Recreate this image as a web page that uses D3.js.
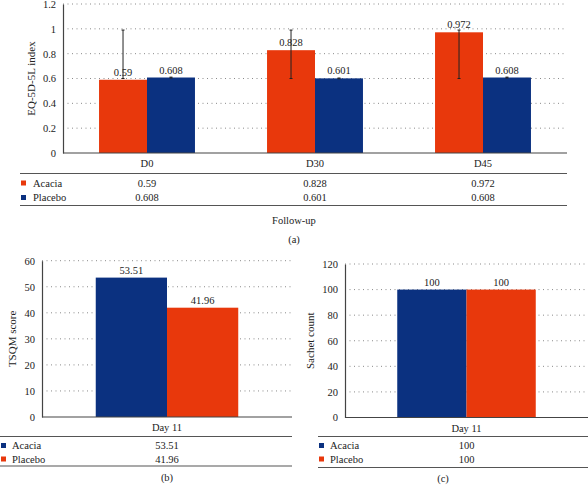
<!DOCTYPE html>
<html><head><meta charset="utf-8">
<script src="https://cdn.jsdelivr.net/npm/d3@7"></script>
<style>body{margin:0;background:#fff}svg{display:block}text{font-family:"Liberation Serif","DejaVu Serif",serif;fill:#222}</style>
</head><body>
<svg id="c" width="588" height="486"></svg>
<script>
// ---- data ----
const seriesNames = ["Acacia", "Placebo"];
const catsA = ["D0", "D30", "D45"];
const acaciaA = [0.59, 0.828, 0.972];
const placeboA = [0.608, 0.601, 0.608];
const acaciaErrLoA = [0.6, 0.6, 0.6];
const acaciaErrHiA = [0.99, 0.99, 0.99];
const placeboErrLoA = [0.604, 0.598, 0.604];
const placeboErrHiA = [0.611, 0.604, 0.611];
const ticksA = [0, 0.2, 0.4, 0.6, 0.8, 1, 1.2];
const catsB = ["Day 11"];
const acaciaB = [53.51];
const placeboB = [41.96];
const ticksB = [0, 10, 20, 30, 40, 50, 60];
const catsC = ["Day 11"];
const acaciaC = [100];
const placeboC = [100];
const ticksC = [0, 20, 40, 60, 80, 100, 120];

const ORANGE = "#e8380c", BLUE = "#0b3180";
const FS = "10.5px";
const svg = d3.select("#c");

function panel(o) {
  const g = svg.append("g");
  const x = d3.scaleBand().domain(o.cats).range([o.x0, o.x1]);
  const y = d3.scaleLinear().domain([0, o.ticks[o.ticks.length - 1]]).range([o.y0, o.yTop]);
  const inner = d3.scaleBand().domain(seriesNames).range([0, x.bandwidth() * o.groupFrac]);
  const off = x.bandwidth() * (1 - o.groupFrac) / 2;
  // grid
  g.selectAll(".grid").data(o.ticks.filter(t => t > 0)).join("line")
    .attr("x1", o.x0).attr("x2", o.x1)
    .attr("y1", d => y(d)).attr("y2", d => y(d))
    .attr("stroke", "#8a8a8a").attr("stroke-width", 1).attr("stroke-dasharray", "1,3.5");
  // y axis
  const ya = g.append("g").attr("transform", `translate(${o.x0},0)`)
    .call(d3.axisLeft(y).tickValues(o.ticks).tickSize(0).tickPadding(7).tickFormat(d3.format("")));
  ya.select(".domain").attr("stroke", "#444").attr("stroke-width", 1.2);
  ya.selectAll("text").style("font-size", FS).style("font-family", '"Liberation Serif",serif').attr("fill", "#222");
  // bars
  const vals = [o.acacia, o.placebo];
  const cols = o.colors;
  seriesNames.forEach((s, si) => {
    g.selectAll(".bar" + si).data(o.cats).join("rect")
      .attr("x", (c) => x(c) + off + inner(s))
      .attr("width", inner.bandwidth())
      .attr("y", (c, i) => y(vals[si][i]))
      .attr("height", (c, i) => o.y0 - y(vals[si][i]))
      .attr("fill", cols[si]);
  });
  // error bars
  if (o.errLo) {
    seriesNames.forEach((s, si) => {
      o.cats.forEach((c, i) => {
        const cx = x(c) + off + inner(s) + inner.bandwidth() / 2;
        const lo = y(o.errLo[si][i]), hi = y(o.errHi[si][i]);
        g.append("line").attr("x1", cx).attr("x2", cx).attr("y1", lo).attr("y2", hi).attr("stroke", "#222").attr("stroke-width", 1);
        [lo, hi].forEach(yy => g.append("line").attr("x1", cx - 1.5).attr("x2", cx + 1.5).attr("y1", yy).attr("y2", yy).attr("stroke", "#222").attr("stroke-width", 1));
      });
    });
  }
  // value labels
  seriesNames.forEach((s, si) => {
    g.selectAll(".lab" + si).data(o.cats).join("text")
      .attr("x", (c) => x(c) + off + inner(s) + inner.bandwidth() / 2)
      .attr("y", (c, i) => y(vals[si][i]) - 4)
      .attr("text-anchor", "middle").style("font-size", FS)
      .text((c, i) => vals[si][i]);
  });
  // x axis line
  g.append("line").attr("x1", o.x0).attr("x2", o.x1).attr("y1", o.y0).attr("y2", o.y0).attr("stroke", "#444").attr("stroke-width", 1.2);
  // category labels
  g.selectAll(".cat").data(o.cats).join("text")
    .attr("x", c => x(c) + x.bandwidth() / 2).attr("y", o.y0 + 14)
    .attr("text-anchor", "middle").style("font-size", FS).text(c => c);
  // table
  [o.tTop, o.tBot].forEach(yy => g.append("line").attr("x1", o.tLeft).attr("x2", o.x1).attr("y1", yy).attr("y2", yy).attr("stroke", "#555").attr("stroke-width", 1.2));
  seriesNames.forEach((s, si) => {
    const ry = o.rows[si];
    g.append("rect").attr("x", o.tLeft + 1).attr("y", ry - 6).attr("width", 5).attr("height", 5).attr("fill", cols[si]);
    g.append("text").attr("x", o.legX).attr("y", ry).style("font-size", FS).text(s);
    g.selectAll(".tv" + si).data(o.cats).join("text")
      .attr("x", c => x(c) + x.bandwidth() / 2).attr("y", ry)
      .attr("text-anchor", "middle").style("font-size", FS)
      .text((c, i) => vals[si][i]);
  });
  // y label
  g.append("text").attr("transform", `translate(${o.yLabX},${(o.y0 + o.yTop) / 2}) rotate(-90)`)
    .attr("text-anchor", "middle").style("font-size", "11px").text(o.yLabel);
  if (o.xTitle) g.append("text").attr("x", o.xTitle[0]).attr("y", o.xTitle[1]).attr("text-anchor", "middle").style("font-size", FS).text("Follow-up");
  g.append("text").attr("x", o.cap[0]).attr("y", o.cap[1]).attr("text-anchor", "middle").style("font-size", FS).text(o.capText);
}

panel({cats: catsA, acacia: acaciaA, placebo: placeboA, ticks: ticksA,
  errLo: [acaciaErrLoA, placeboErrLoA], errHi: [acaciaErrHiA, placeboErrHiA],
  colors: [ORANGE, BLUE], x0: 63, x1: 567, y0: 153, yTop: 4, groupFrac: 0.571,
  tTop: 173.5, tBot: 205.5, rows: [186.5, 201], tLeft: 20, legX: 33,
  yLabX: 35, yLabel: "EQ-5D-5L index", xTitle: [294, 223.5], cap: [294, 243], capText: "(a)"});

panel({cats: catsB, acacia: acaciaB, placebo: placeboB, ticks: ticksB,
  colors: [BLUE, ORANGE], x0: 42, x1: 292, y0: 417, yTop: 260.7, groupFrac: 0.57,
  tTop: 436.5, tBot: 466, rows: [449, 462.5], tLeft: 0, legX: 12,
  yLabX: 16, yLabel: "TSQM score", cap: [167, 481], capText: "(b)"});

panel({cats: catsC, acacia: acaciaC, placebo: placeboC, ticks: ticksC,
  colors: [BLUE, ORANGE], x0: 345, x1: 588, y0: 417.5, yTop: 264, groupFrac: 0.57,
  tTop: 436.5, tBot: 467.5, rows: [449, 462.5], tLeft: 318, legX: 330,
  yLabX: 314, yLabel: "Sachet count", cap: [443, 482], capText: "(c)"});
</script>
</body></html>
